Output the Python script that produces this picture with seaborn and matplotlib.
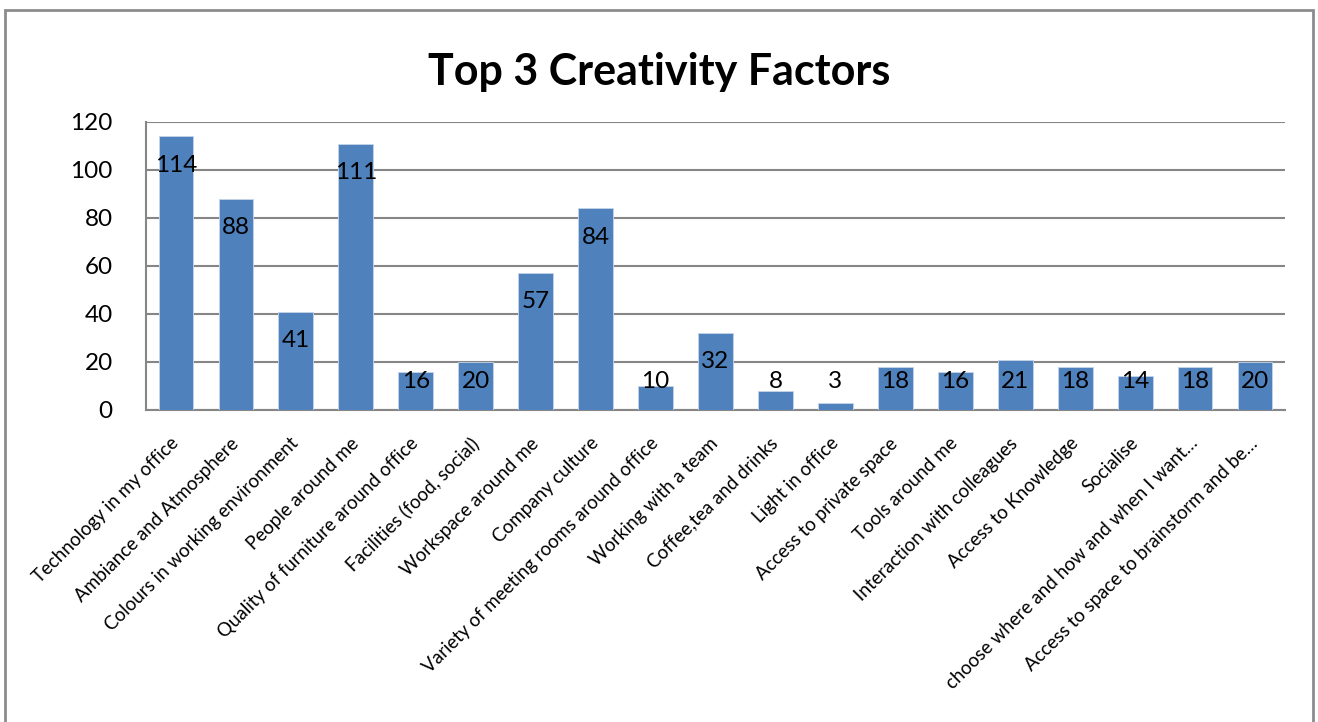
import matplotlib
matplotlib.use("Agg")
import matplotlib.pyplot as plt
from matplotlib.patches import Rectangle
import seaborn as sns
import pandas as pd

# Survey results: how often each factor was picked in respondents' top 3
categories = [
    "Technology in my office",
    "Ambiance and Atmosphere",
    "Colours in working environment",
    "People around me",
    "Quality of furniture around office",
    "Facilities (food, social)",
    "Workspace around me",
    "Company culture",
    "Variety of meeting rooms around office",
    "Working with a team",
    "Coffee,tea and drinks",
    "Light in office",
    "Access to private space",
    "Tools around me",
    "Interaction with colleagues",
    "Access to Knowledge",
    "Socialise",
    "choose where and how and when I want\u2026",
    "Access to space to brainstorm and be\u2026",
]
counts = [114, 88, 41, 111, 16, 20, 57, 84, 10, 32, 8, 3, 18, 16, 21, 18, 14, 18, 20]
y_ticks = [0, 20, 40, 60, 80, 100, 120]

sns.set_theme(style="white")
plt.rcParams["font.family"] = ["Lato", "DejaVu Sans"]
plt.rcParams["text.color"] = "black"
plt.rcParams["xtick.color"] = "black"
plt.rcParams["ytick.color"] = "black"
plt.rcParams["axes.labelcolor"] = "black"

BAR = "#4F81BD"
GRID = "#868686"

df = pd.DataFrame({"factor": categories, "count": counts})

fig = plt.figure(figsize=(13.18, 7.22), dpi=100)
ax = fig.add_axes([146 / 1318, 1 - 410 / 722, (1285 - 146) / 1318, (410 - 122) / 722])

sns.barplot(data=df, x="factor", y="count", color=BAR, saturation=1,
            width=0.58, edgecolor="#c6d5ea", linewidth=0.6, ax=ax, zorder=3)

ax.set_ylim(0, 120)
ax.set_xlim(-0.5, len(categories) - 0.5)
ax.set_yticks(y_ticks)
ax.set_yticklabels([str(t) for t in y_ticks], fontsize=17.5, color="black")
ax.yaxis.grid(True, color=GRID, linewidth=1.5, zorder=0)
ax.set_axisbelow(True)
ax.tick_params(axis="y", length=0, pad=24)
ax.tick_params(axis="x", length=0, pad=22)
ax.set_xlabel("")
ax.set_ylabel("")

for lbl in ax.get_xticklabels():
    lbl.set_rotation(45)
    lbl.set_rotation_mode("anchor")
    lbl.set_ha("right")
    lbl.set_va("center")
    lbl.set_fontsize(13.5)
    lbl.set_color("black")

for side in ("top", "right"):
    ax.spines[side].set_visible(False)
for side in ("left", "bottom"):
    ax.spines[side].set_color(GRID)
    ax.spines[side].set_linewidth(1.5)

# value labels just inside the top of each bar, kept clear of the baseline
for i, v in enumerate(counts):
    ax.text(i, max(v - 12, 12), str(v), ha="center", va="center",
            fontsize=17.5, color="black", zorder=4)

fig.text(0.5, 1 - 85 / 722, "Top 3 Creativity Factors", ha="center",
         va="baseline", fontsize=31, fontweight="bold", color="black")

# chart frame
fig.patches.append(Rectangle((5 / 1318, -0.1), (1313 - 5) / 1318, 1.1 - 10 / 722,
                             transform=fig.transFigure, fill=False,
                             edgecolor="#8c8c8c", linewidth=2))

fig.savefig("out.png", dpi=100)
